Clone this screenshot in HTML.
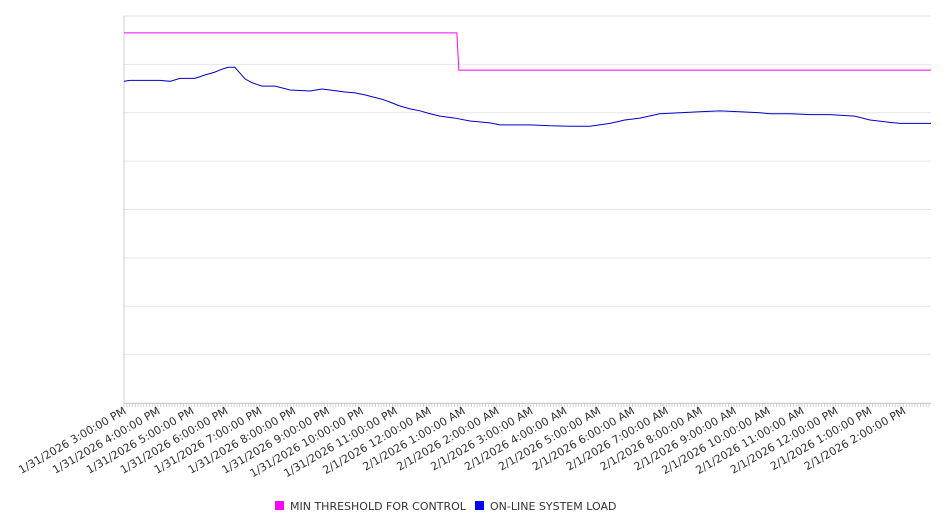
<!DOCTYPE html>
<html><head><meta charset="utf-8"><style>
body{margin:0;background:#fff;font-family:"Liberation Sans","DejaVu Sans",sans-serif}
svg text{font-family:"DejaVu Sans","Liberation Sans",sans-serif}
</style></head><body>
<svg id="c" width="946" height="526"></svg>
<script>
const hours=[0,0.18,0.47,1.06,1.36,1.65,2.09,2.39,2.68,2.89,3.07,3.27,3.42,3.57,3.78,4.07,4.46,4.9,5.49,5.84,6.08,6.52,6.82,7.11,7.61,7.85,8.14,8.44,8.73,9.03,9.32,9.76,10.21,10.8,11.09,11.39,11.98,12.57,13.16,13.75,14.34,14.78,15.22,15.81,16.4,16.99,17.58,18.17,18.76,19.06,19.65,20.24,20.83,21.56,22.01,22.6,22.89,23.33,23.81];
const load=[6.65,6.67,6.67,6.67,6.65,6.71,6.71,6.78,6.84,6.90,6.94,6.94,6.82,6.70,6.62,6.55,6.55,6.47,6.45,6.49,6.47,6.43,6.41,6.37,6.28,6.22,6.14,6.08,6.04,5.98,5.93,5.89,5.83,5.79,5.75,5.75,5.75,5.73,5.72,5.72,5.78,5.85,5.89,5.98,6.00,6.02,6.04,6.02,6.00,5.98,5.98,5.96,5.96,5.93,5.85,5.80,5.78,5.78,5.78];
const thrHours=[0,9.82,9.88,23.81];
const thrVals=[7.65,7.65,6.88,6.88];
const tickLabels=["1/31/2026 3:00:00 PM","1/31/2026 4:00:00 PM","1/31/2026 5:00:00 PM","1/31/2026 6:00:00 PM","1/31/2026 7:00:00 PM","1/31/2026 8:00:00 PM","1/31/2026 9:00:00 PM","1/31/2026 10:00:00 PM","1/31/2026 11:00:00 PM","2/1/2026 12:00:00 AM","2/1/2026 1:00:00 AM","2/1/2026 2:00:00 AM","2/1/2026 3:00:00 AM","2/1/2026 4:00:00 AM","2/1/2026 5:00:00 AM","2/1/2026 6:00:00 AM","2/1/2026 7:00:00 AM","2/1/2026 8:00:00 AM","2/1/2026 9:00:00 AM","2/1/2026 10:00:00 AM","2/1/2026 11:00:00 AM","2/1/2026 12:00:00 PM","2/1/2026 1:00:00 PM","2/1/2026 2:00:00 PM"];
const L=124,R=931,T=16,B=403,YMAX=8,HMAX=23.81;
const X=h=>L+h*(R-L)/HMAX, Y=v=>B-v*(B-T)/YMAX;
const s=document.getElementById('c'),NS="http://www.w3.org/2000/svg";
function mk(t,a,p){const e=document.createElementNS(NS,t);for(const k in a)e.setAttribute(k,a[k]);(p||s).appendChild(e);return e;}
for(let i=0;i<=YMAX;i++){const g=mk('line',{x1:L,x2:R,y1:Y(i),y2:Y(i),stroke:'#e6e6e6','stroke-width':1});

}
const ax=mk('line',{x1:L,x2:L,y1:T,y2:B+1,stroke:'#ccc'});


const xa=mk('line',{x1:L,x2:R,y1:B+0.5,y2:B+0.5,stroke:'#ccc'});


for(let m=0;m<=HMAX*12;m++){const x=X(m/12);const t=mk('line',{x1:x,x2:x,y1:B,y2:B+4,stroke:'#ccc','stroke-width':0.8});

}
tickLabels.forEach((lb,i)=>{const x=X(i)+3,y=B+10;const t=mk('text',{x:x,y:y,'text-anchor':'end','font-size':11,fill:'#333',transform:`rotate(-30 ${x} ${y})`});t.textContent=lb;

});
const p1=mk('polyline',{points:thrHours.map((h,i)=>X(h)+','+Y(thrVals[i])).join(' '),fill:'none',stroke:'#ff00ff','stroke-width':1});


const p2=mk('polyline',{points:hours.map((h,i)=>X(h)+','+Y(load[i])).join(' '),fill:'none',stroke:'#0000cc','stroke-width':1});


[[275,'#ff00ff','MIN THRESHOLD FOR CONTROL','legend-threshold'],[475,'#0000ff','ON-LINE SYSTEM LOAD','legend-load']].forEach(a=>{
const g=mk('g',{});


mk('rect',{x:a[0],y:501,width:9,height:9,fill:a[1]},g);
const t=mk('text',{x:a[0]+15,y:510,'font-size':11,fill:'#333'},g);t.textContent=a[2];});
</script>
</body></html>
